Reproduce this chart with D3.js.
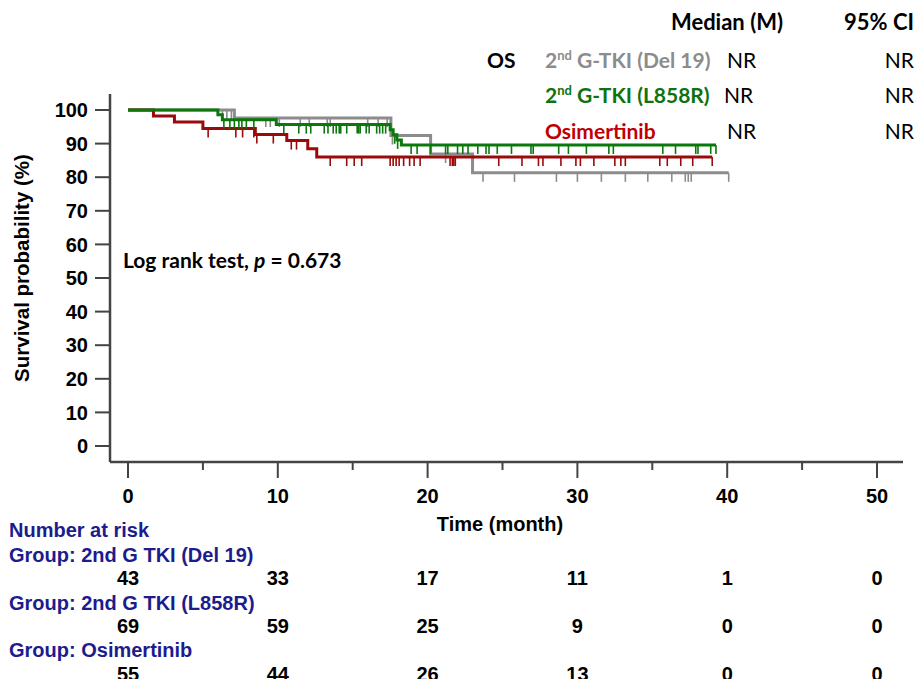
<!DOCTYPE html>
<html>
<head>
<meta charset="utf-8">
<script src="https://cdn.jsdelivr.net/npm/d3@7"></script>
<style>
  body { margin: 0; background: #fff; }
</style>
</head>
<body>
<div id="chart"></div>
<script>
// ---- data ----
const groupNames = ["2nd G-TKI (Del 19)", "2nd G-TKI (L858R)", "Osimertinib"];
const riskLabels = ["Group: 2nd G TKI (Del 19)", "Group: 2nd G TKI (L858R)", "Group: Osimertinib"];
const medians = ["NR", "NR", "NR"];
const ci95 = ["NR", "NR", "NR"];

// step points [month, survival %] for each curve, plus last follow-up time
const del19Steps = [[0, 100], [7.1, 97.6], [17.55, 92.4], [20.2, 86.9], [23.0, 81.3]];
const del19End = 40.1;
const l858rSteps = [[0, 100], [6.0, 98.55], [6.3, 97.1], [9.9, 95.65], [17.5, 94.1], [17.7, 92.6], [17.95, 91.1], [18.25, 89.6]];
const l858rEnd = 39.25;
const osiSteps = [[0, 100], [1.7, 98.2], [3.1, 96.4], [5.0, 94.5], [8.5, 92.7], [10.6, 90.9], [12.0, 88.5], [12.6, 86.0]];
const osiEnd = 39.0;

// censor marks (months)
const del19Censor = [6.3, 6.6, 6.9, 9.2, 9.5, 10.1, 11.5, 12.1, 13.3, 13.5, 16.0, 16.7, 17.3, 17.65, 21.2,
  23.7, 25.8, 28.6, 30.0, 31.6, 33.2, 34.7, 36.3, 37.2, 37.4, 37.6, 40.1];
const l858rCensor = [6.4, 6.8, 7.1, 7.4, 7.6, 7.9, 8.4, 10.4, 11.4, 11.9, 12.2, 13.1, 13.35, 13.7, 13.9, 14.1,
  14.2, 14.6, 15.3, 15.4, 15.5, 15.9, 16.1, 16.6, 16.8, 17.0, 17.2, 17.8, 18.0, 18.9, 19.3, 20.2, 21.2, 21.35,
  22.0, 22.35, 22.7, 23.35, 23.9, 24.1, 24.65, 25.6, 26.9, 27.05, 28.75, 29.4, 30.6, 32.1, 32.4, 35.7, 36.55,
  37.9, 38.05, 38.9, 39.25];
const osiCensor = [5.35, 7.2, 7.65, 8.4, 8.6, 9.7, 10.9, 11.25, 13.5, 14.6, 15.1, 15.6, 17.5, 17.7, 17.9, 18.1,
  18.4, 18.8, 19.1, 19.5, 21.5, 21.65, 21.75, 21.85, 24.75, 26.3, 27.4, 27.7, 28.9, 29.9, 30.2, 31.1, 32.5,
  32.9, 33.2, 35.5, 36.0, 36.9, 37.7, 39.0];

const riskTimes = [0, 10, 20, 30, 40, 50];
const riskDel19 = [43, 33, 17, 11, 1, 0];
const riskL858r = [69, 59, 25, 9, 0, 0];
const riskOsi = [55, 44, 26, 13, 0, 0];

const yTicks = [0, 10, 20, 30, 40, 50, 60, 70, 80, 90, 100];
const xMajor = [0, 10, 20, 30, 40, 50];
const xMinor = [5, 15, 25, 35, 45];

// ---- layout ----
const width = 919, height = 679;
const curveColors = ["#8c8c8c", "#0a780a", "#9b0a0a"];
const textColors = ["#8c8c8c", "#0e730e", "#c00000"];
const navy = "#1c1c8e";
const axisFont = "'Liberation Sans', Arial, sans-serif";
const calFont = "Lato, 'Open Sans', sans-serif";

const svg = d3.select("#chart")
  .append("svg")
    .attr("width", width)
    .attr("height", height)
    .attr("viewBox", [0, 0, width, height]);

const xScale = d3.scaleLinear().domain([0, 50]).range([128, 877]);
const yScale = d3.scaleLinear().domain([0, 100]).range([446, 110]);

const axisX = 110, axisY = 462;

// axes lines
svg.append("line")
  .attr("x1", axisX).attr("x2", axisX).attr("y1", 94).attr("y2", axisY)
  .attr("stroke", "#444").attr("stroke-width", 2.5);
svg.append("line")
  .attr("x1", axisX).attr("x2", 903).attr("y1", axisY).attr("y2", axisY)
  .attr("stroke", "#444").attr("stroke-width", 2.5);

// y ticks + labels
svg.selectAll("line.ytick")
  .data(yTicks)
  .join("line")
    .attr("class", "ytick")
    .attr("x1", axisX - 15).attr("x2", axisX)
    .attr("y1", d => yScale(d)).attr("y2", d => yScale(d))
    .attr("stroke", "#444").attr("stroke-width", 2);
svg.selectAll("text.ylab")
  .data(yTicks)
  .join("text")
    .attr("class", "ylab")
    .attr("x", 88)
    .attr("y", d => yScale(d))
    .attr("dy", "0.36em")
    .attr("text-anchor", "end")
    .style("font-family", axisFont).style("font-weight", "bold").style("font-size", "20px")
    .text(d => d);

svg.append("text")
  .attr("transform", `translate(29, 268) rotate(-90)`)
  .attr("text-anchor", "middle")
  .style("font-family", axisFont).style("font-weight", "bold").style("font-size", "20.5px")
  .text("Survival probability (%)");

// x ticks + labels
svg.selectAll("line.xmaj")
  .data(xMajor)
  .join("line")
    .attr("class", "xmaj")
    .attr("x1", d => xScale(d)).attr("x2", d => xScale(d))
    .attr("y1", axisY).attr("y2", axisY + 16)
    .attr("stroke", "#444").attr("stroke-width", 2);
svg.selectAll("line.xmin")
  .data(xMinor)
  .join("line")
    .attr("class", "xmin")
    .attr("x1", d => xScale(d)).attr("x2", d => xScale(d))
    .attr("y1", axisY).attr("y2", axisY + 8)
    .attr("stroke", "#444").attr("stroke-width", 2);
svg.selectAll("text.xlab")
  .data(xMajor)
  .join("text")
    .attr("class", "xlab")
    .attr("x", d => xScale(d))
    .attr("y", 503)
    .attr("text-anchor", "middle")
    .style("font-family", axisFont).style("font-weight", "bold").style("font-size", "20px")
    .text(d => d);
svg.append("text")
  .attr("x", 500).attr("y", 531)
  .attr("text-anchor", "middle")
  .style("font-family", axisFont).style("font-weight", "bold").style("font-size", "20px")
  .text("Time (month)");

// ---- KM curves ----
const curves = [
  {steps: del19Steps, end: del19End, censor: del19Censor},
  {steps: l858rSteps, end: l858rEnd, censor: l858rCensor},
  {steps: osiSteps, end: osiEnd, censor: osiCensor}
];

const line = d3.line()
  .curve(d3.curveStepAfter)
  .x(d => xScale(d[0]))
  .y(d => yScale(d[1]));

const levelAt = (steps, t) => {
  let v = steps[0][1];
  for (const s of steps) if (s[0] <= t) v = s[1];
  return v;
};

// draw gray first, then red, then green on top (like the reference)
[0, 2, 1].forEach(i => {
  const c = curves[i];
  const pts = c.steps.concat([[c.end, c.steps[c.steps.length - 1][1]]]);
  svg.append("path")
    .attr("d", line(pts))
    .style("fill", "none")
    .style("stroke", curveColors[i])
    .style("stroke-width", 3);

  svg.selectAll(`line.cens${i}`)
    .data(c.censor)
    .join("line")
      .attr("class", `cens${i}`)
      .attr("x1", d => xScale(d)).attr("x2", d => xScale(d))
      .attr("y1", d => yScale(levelAt(c.steps, d)))
      .attr("y2", d => yScale(levelAt(c.steps, d)) + 9)
      .attr("stroke", curveColors[i])
      .attr("stroke-width", 1.6);
});

// ---- legend table at top ----
svg.append("text")
  .attr("x", 783).attr("y", 30).attr("text-anchor", "end")
  .style("font-family", calFont).style("font-weight", "bold").style("font-size", "22px")
  .text("Median (M)");
svg.append("text")
  .attr("x", 914).attr("y", 30).attr("text-anchor", "end")
  .style("font-family", calFont).style("font-weight", "bold").style("font-size", "22px")
  .text("95% CI");
svg.append("text")
  .attr("x", 487).attr("y", 68)
  .style("font-family", calFont).style("font-weight", "bold").style("font-size", "21px")
  .text("OS");

const rowY = [68, 103, 139];
const nrX = [727, 724, 727];

groupNames.forEach((g, i) => {
  const t = svg.append("text")
    .attr("x", 545).attr("y", rowY[i])
    .style("font-family", calFont).style("font-weight", "bold").style("font-size", "21px")
    .style("fill", textColors[i]);
  if (g.startsWith("2nd")) {
    t.append("tspan").text("2");
    t.append("tspan").attr("dy", -8).style("font-size", "13px").text("nd");
    t.append("tspan").attr("dy", 8).text(g.slice(3));
  } else {
    t.text(g);
  }
  svg.append("text")
    .attr("x", nrX[i]).attr("y", rowY[i])
    .style("font-family", calFont).style("font-size", "21px")
    .text(medians[i]);
  svg.append("text")
    .attr("x", 914).attr("y", rowY[i]).attr("text-anchor", "end")
    .style("font-family", calFont).style("font-size", "21px")
    .text(ci95[i]);
});

// log rank note
const lr = svg.append("text")
  .attr("x", 123).attr("y", 268)
  .style("font-family", calFont).style("font-weight", "bold").style("font-size", "21px");
lr.append("tspan").text("Log rank test, ");
lr.append("tspan").style("font-style", "italic").text("p");
lr.append("tspan").text(" = 0.673");

// ---- number at risk table ----
svg.append("text")
  .attr("x", 9).attr("y", 537)
  .style("font-family", axisFont).style("font-weight", "bold").style("font-size", "20px")
  .style("fill", navy)
  .text("Number at risk");

const riskRows = [riskDel19, riskL858r, riskOsi];
const labelY = [562, 610, 657];
const numY = [585, 633, 681];

riskRows.forEach((row, i) => {
  svg.append("text")
    .attr("x", 9).attr("y", labelY[i])
    .style("font-family", axisFont).style("font-weight", "bold").style("font-size", "20px")
    .style("fill", navy)
    .text(riskLabels[i]);
  svg.selectAll(`text.risk${i}`)
    .data(row)
    .join("text")
      .attr("class", `risk${i}`)
      .attr("x", (d, j) => xScale(riskTimes[j]))
      .attr("y", numY[i])
      .attr("text-anchor", "middle")
      .style("font-family", axisFont).style("font-weight", "bold").style("font-size", "20px")
      .text(d => d);
});
</script>
</body>
</html>
